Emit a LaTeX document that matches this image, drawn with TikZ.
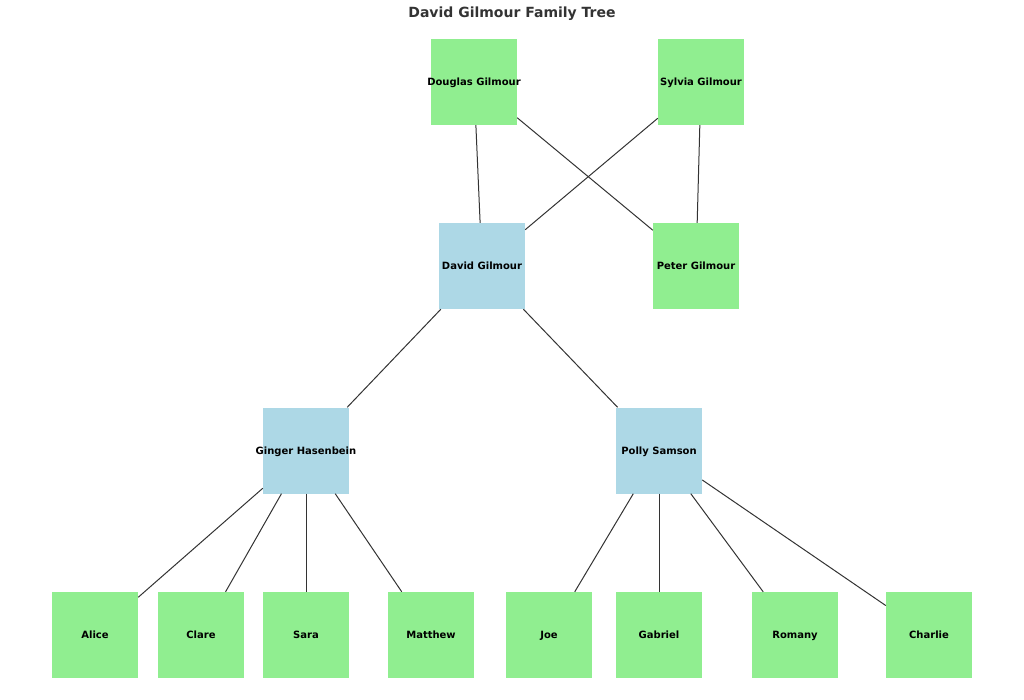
\documentclass[tikz,border=0pt]{standalone}
\usepackage{fontspec}
\setmainfont{DejaVu Sans}
\definecolor{lgreen}{HTML}{90EE90}
\definecolor{lblue}{HTML}{ADD8E6}
\definecolor{edgecol}{HTML}{333333}
\newcommand{\zw}[1]{\makebox[0pt][c]{#1}}
\begin{document}
\begin{tikzpicture}[x=1pt,y=-1pt,
  person/.style={draw=none,minimum width=86pt,minimum height=86pt,inner sep=0pt,
    text height=8.5pt,text depth=1pt,
    font=\fontsize{10}{12}\selectfont\bfseries},
  anc/.style={person,fill=lgreen},
  main/.style={person,fill=lblue},
  link/.style={draw=edgecol,line width=1pt}]
\useasboundingbox (0,0) rectangle (1024,700);
\node[font=\fontsize{14}{16}\selectfont\bfseries,text=edgecol] (title) at (512,14) {David Gilmour Family Tree};
\node[anc] (douglas) at (474,82) {\zw{Douglas Gilmour}};
\node[anc] (sylvia) at (701,82) {\zw{Sylvia Gilmour}};
\node[main] (david) at (482,266) {\zw{David Gilmour}};
\node[anc] (peter) at (696,266) {\zw{Peter Gilmour}};
\node[main] (ginger) at (306,450.5) {\zw{Ginger Hasenbein}};
\node[main] (polly) at (659,450.5) {\zw{Polly Samson}};
\node[anc] (alice) at (95,635) {\zw{Alice}};
\node[anc] (clare) at (201,635) {\zw{Clare}};
\node[anc] (sara) at (306,635) {\zw{Sara}};
\node[anc] (matthew) at (431,635) {\zw{Matthew}};
\node[anc] (joe) at (549,635) {\zw{Joe}};
\node[anc] (gabriel) at (659,635) {\zw{Gabriel}};
\node[anc] (romany) at (795,635) {\zw{Romany}};
\node[anc] (charlie) at (929,635) {\zw{Charlie}};
\draw[link] (douglas) -- (david);
\draw[link] (douglas) -- (peter);
\draw[link] (sylvia) -- (david);
\draw[link] (sylvia) -- (peter);
\draw[link] (david) -- (ginger);
\draw[link] (david) -- (polly);
\draw[link] (ginger) -- (alice);
\draw[link] (ginger) -- (clare);
\draw[link] (ginger) -- (sara);
\draw[link] (ginger) -- (matthew);
\draw[link] (polly) -- (joe);
\draw[link] (polly) -- (gabriel);
\draw[link] (polly) -- (romany);
\draw[link] (polly) -- (charlie);
\end{tikzpicture}
\end{document}
